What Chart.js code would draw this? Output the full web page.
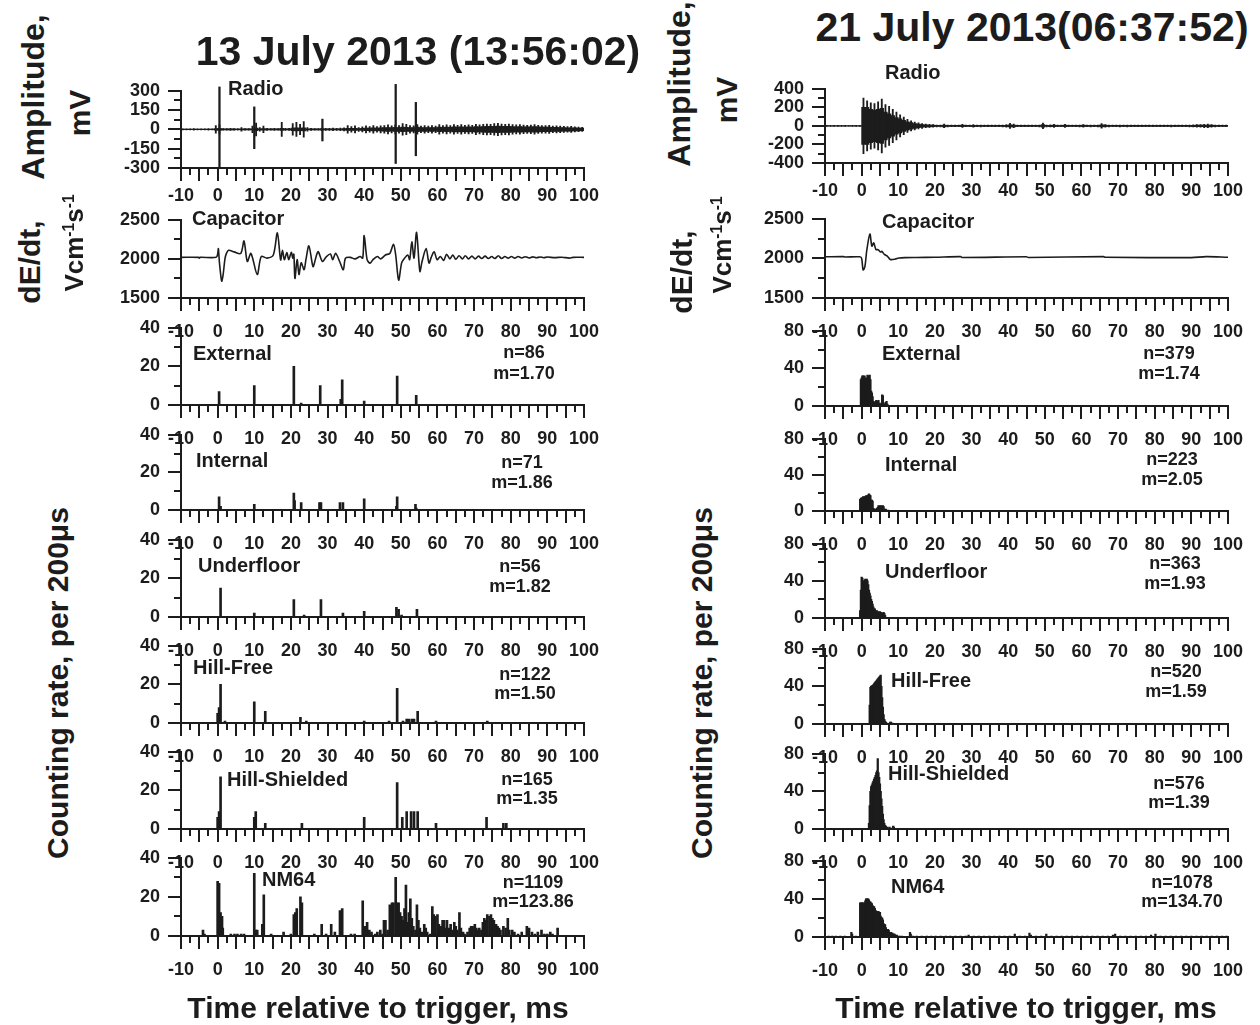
<!DOCTYPE html>
<html lang="en">
<head>
<meta charset="UTF-8">
<title>Radio, capacitor and particle counts, July 2013</title>
<script src="https://cdn.jsdelivr.net/npm/chart.js"></script>
<style>
  body { margin: 0; width: 1260px; height: 1025px; position: relative; overflow: hidden; background: #fff;
         font-family: "Liberation Sans", Arial, sans-serif; font-weight: bold; color: #1c1c1c; }
  .box { position: absolute; }
  .t { position: absolute; white-space: nowrap; line-height: 1; }
  .r { position: absolute; white-space: nowrap; line-height: 1; transform: translate(-50%, -50%) rotate(-90deg); }
  sup { font-size: 60%; vertical-align: 0.6em; }
</style>
</head>
<body>
<script>
// ---------- data ----------
// radio signal per 1 ms bin from -10 ms: dense noise level (core) and largest excursions (peak), mV
const radioL_core = [
  3,3,3,3,3,3,3,3,3,6,
  8,4,4,4,4,3,4,4,4,5,
  10,5,6,4,4,4,4,8,4,4,
  10,12,10,12,5,4,4,4,6,4,
  4,5,4,5,6,8,8,8,6,8,
  10,10,12,10,12,14,15,14,16,15,
  18,16,15,14,18,14,15,14,15,14,
  18,16,18,16,20,18,20,18,20,18,
  22,20,22,24,24,24,26,24,24,24,
  22,20,22,20,20,20,22,20,18,18,
  18,16,16,15,14,13,13,12,11,10];
const radioL_peak = [
  4,4,4,6,4,4,4,6,4,30,
  35,6,6,8,6,6,14,6,6,25,
  50,14,25,8,6,8,6,55,8,8,
  45,55,40,60,14,8,6,6,10,8,
  8,10,8,10,12,30,22,28,15,20,
  28,22,30,22,28,30,35,28,35,30,
  45,40,30,28,38,25,30,25,30,25,
  38,30,35,30,38,32,38,32,36,32,
  40,35,40,42,40,45,48,42,40,42,
  38,35,38,34,32,34,38,32,30,30,
  32,26,28,25,24,22,24,20,18,16];
const radioL_spikeT = [0.5, 10.0, 28.6, 48.6, 54.1];
const radioL_spikeHi = [330, 175, 80, 350, 210];
const radioL_spikeLo = [-300, -150, -90, -265, -205];

const radioR_core = [
  4,4,4,4,4,4,3,4,4,4,
  200,200,180,170,180,190,150,130,110,90,
  75,60,45,35,26,20,15,12,10,8,
  6,6,10,6,5,5,5,8,5,5,
  7,5,6,5,5,5,5,5,6,7,
  12,10,5,5,5,5,5,5,6,14,
  6,7,9,5,5,8,5,5,5,6,
  8,5,6,5,6,12,8,6,5,5,
  6,5,6,5,5,5,5,5,5,5,
  5,5,5,5,6,5,5,5,5,6,
  7,8,8,9,10,8,6,5,5,5];
const radioR_peak = [
  6,6,5,5,6,5,4,5,5,6,
  300,270,250,240,260,290,230,210,180,150,
  120,95,70,55,42,32,26,20,16,13,
  10,10,20,10,8,8,8,16,8,8,
  14,8,10,8,8,8,8,8,10,14,
  28,20,8,8,8,8,8,8,10,30,
  10,12,16,8,8,16,8,8,8,10,
  15,8,10,8,10,25,15,10,8,8,
  10,8,10,8,8,8,8,8,8,8,
  8,8,8,8,10,8,8,8,8,10,
  12,14,14,18,20,15,10,8,8,8];

// capacitor dE/dt traces (ms, V/cm/s)
const capL_t = [-10,-5.2,-5,-4.8,-0.4,0,0.2,0.5,1.1,1.5,2.0,2.4,3.0,4.5,6.3,7.2,8.1,9.1,10.8,11.9,
  13.5,15.2,16.3,17.2,17.7,18.2,18.9,19.4,20.1,20.5,20.8,21.1,21.7,22.2,22.8,23.6,24.1,24.9,25.8,26.1,
  27.4,28.6,29.7,30.8,31.4,32.2,33.3,34.3,34.9,36.2,37.5,38.9,39.6,40.0,40.8,41.6,42.4,43.6,44.5,45.8,
  47.0,48.0,48.6,49.4,50.2,50.7,51.9,52.4,53.0,53.6,54.3,55.2,55.8,56.9,57.7,58.3,59.1,59.9,60.8,61.7,
  62.5,63.4,64.2,65.0,65.9,66.8,67.6,68.5,69.4,70.3,71.2,72.1,73.0,73.9,74.8,75.7,76.6,77.5,78.4,79.3,
  80.2,81.1,82,83,84,85,86,87,88,89,90,92,94,96,97,100];
const capL_v = [2020,2020,2010,2020,2020,2060,2130,1950,1716,1800,2000,2070,2110,2090,2070,2230,1967,2070,1800,2030,
  2010,2050,2333,1987,2110,1990,2080,1990,2083,2010,2060,1750,1990,1800,1950,1862,1990,2167,1946,1900,
  2092,1967,2030,2063,1990,2071,1967,1862,2010,2020,2000,2030,2010,2300,1990,1946,1990,2030,2000,2050,
  2070,2188,2050,1729,1946,1990,2050,1990,2217,2010,2338,1841,1967,2133,1946,2020,2092,1990,2030,1980,
  2060,2000,2050,1995,2040,2000,2040,2000,2035,2000,2035,2005,2035,2005,2030,2005,2040,2005,2030,2010,
  2030,2010,2030,2012,2028,2012,2026,2014,2025,2015,2024,2016,2022,2010,2020,2020];

const capR_t = [-10,-5,-4.5,-0.5,0,0.4,0.9,1.4,2.25,2.8,3.3,3.9,4.5,5.2,5.5,6.2,7.0,7.8,9.1,10.2,
  12,15,20,27,27.5,45,45.5,66,66.5,90,94,100];
const capR_v = [2020,2022,2018,2020,2000,1854,1900,2100,2308,2154,2196,2112,2110,2080,2090,2050,2030,1987,1990,2005,
  2010,2012,2015,2022,2012,2020,2012,2022,2014,2010,2022,2015];

// counting rate per 200 us, 13 July (sparse bins: time ms, count)
const extL_t = [0.4,10.0,20.8,22.8,28.0,33.6,34.0,40.0,49.0,54.2];
const extL_n = [7,10,20,1,10,3,13,2,15,5];
const intL_t = [0.4,0.8,10.0,20.8,21.0,22.8,27.8,28.2,33.4,34.2,40.0,48.8,49.0,54.0,54.2];
const intL_n = [7,2,3,9,5,4,4,4,4,4,6,2,7,3,1];
const ufL_t = [0.8,10.0,20.8,23.6,28.2,34.2,40.0,48.8,49.4,50.2,54.4];
const ufL_n = [15,2,9,1,9,2,3,5,4,1,4];
const hfL_t = [0.0,0.4,0.8,2.0,10.0,13.0,22.6,24.2,40.0,46.8,49.0,50.6,51.6,52.2,53.0,53.6,54.6,59.6,73.6];
const hfL_n = [5,8,20,1,11,6,3,1,1,1,18,1,2,2,2,2,6,1,1];
const hsL_t = [0.0,0.4,0.8,10.0,10.4,13.0,23.0,40.0,49.0,50.4,51.6,52.8,53.6,54.6,59.6,73.4,78.0,78.8];
const hsL_n = [6,9,27,6,9,3,3,6,24,6,9,9,9,9,3,6,3,3];
const nmL_t = [-4.0,-3.6, 0.0,0.4,0.8,1.2,1.4, 3.6,4.6,5.4,6.4,7.2, 10.0,10.4,10.8, 12.2,12.6, 14.6,18.0,20.0,
  20.8,21.2,21.6,22.6,23.0, 26.4,28.4,29.6, 31.0,32.0, 33.4,34.0, 36.4,37.4, 39.6,40.2,
  40.8,41.4,42.0,43.0,43.6,44.4,45.0,45.4,45.8,46.4,
  47.0,47.2,47.6,48.0,48.6,49.0,49.4,49.8,50.2,50.6,
  51.0,51.4,51.8,52.2,52.6,53.0,53.4,54.0,54.4,54.8,
  55.2,55.8,56.4,56.8,57.2,58.0,58.6,59.0,59.4,60.0,
  60.4,61.0,61.4,61.8,62.2,62.6,63.2,63.6,64.2,64.6,
  65.0,65.4,66.0,66.4,67.0,67.4,68.2,68.8,69.2,69.6,
  70.2,70.6,71.0,71.4,72.0,72.4,72.8,73.2,73.6,74.2,
  74.6,75.0,75.4,76.0,76.4,76.8,77.2,78.0,78.6,79.2,
  79.6,80.4,81.0,82.0,83.0,84.4,85.0,85.8,86.6,87.4,
  88.4,89.2,90.0,90.8,91.4,92.8];
const nmL_n = [3,1, 28,27,12,10,4, 1,1,1,1,1, 32,3,3, 6,21, 1,2,1,
  11,12,14,20,17, 1,6,1, 6,2, 13,14, 1,1, 18,5,
  7,3,2,1,2,3,1,8,8,3,
  16,12,17,17,30,17,17,12,10,8,
  14,26,7,12,19,9,5,3,16,8,
  4,2,6,4,2,1,15,11,10,11,
  6,5,8,8,4,8,4,6,3,7,
  5,3,12,4,2,1,2,4,5,5,
  6,4,3,4,3,7,9,8,11,10,
  11,9,8,6,5,4,3,5,4,9,
  3,3,2,1,2,5,4,2,1,2,
  3,1,1,2,1,4];

// 21 July: contiguous 200 us bins, first bin time + counts
const extR_t0 = -0.2;
const extR_n = [28,30,32,32,30,32,28,30,25,33,32,30,33,28,16,14,10,5,4,3,5,6,4,5,6,3,2,2,3,12,11,3,2,1,4,5,2,1];
const intR_t0 = -0.4;
const intR_n = [13,14,15,14,16,15,16,16,17,16,17,18,19,18,17,12,12,11,3,2,2,1,2,3,4,6,5,6,5,6,5,6,5,2,0,2,0,0,1];
const ufR_t0 = -0.4;
const ufR_n = [8,30,44,43,40,38,41,42,41,42,40,36,30,27,24,20,18,15,12,10,10,8,7,8,6,7,6,7,5,6,5,5,6,5,3];
const hfR_t0 = 2.2;
const hfR_n = [20,39,40,41,41,42,43,44,45,46,47,48,49,50,51,52,40,28,18,10,5,3,2,0,1,0,0,0,2,2,0,1];
const hsR_t0 = 2.0;
const hsR_n = [6,25,40,45,47,49,51,53,55,57,60,62,75,60,55,48,40,32,24,16,10,6,4,3,0,2,0,0,2,0,1,0,0,3,2];
const nmR_t0 = -0.4;
const nmR_n = [36,36,36,36,36,35,36,38,40,40,40,40,39,37,37,36,35,33,32,32,30,28,27,27,27,27,26,26,22,20,
  20,18,14,13,13,10,8,8,8,7,5,5,5,4,4,3,3,3,2,0,2,0,1];
// scattered single bins of NM64 outside the burst
const nmR_sparseT = [-9.0,-8.0,-7.0,-5.8,-4.6,-2.8,-2.6,-1.6,
  10.4,11.0,13.2,13.4,14.0,15.0,16.4,17.8,19.0,20.2,
  21.6,23.0,24.2,25.6,27.0,28.4,29.2,30.6,32.0,33.4,
  34.8,36.2,37.6,39.0,40.4,41.8,43.2,44.6,45.8,46.2,
  47.6,49.0,50.4,51.8,53.2,54.6,56.0,57.4,58.8,60.2,
  61.6,63.0,64.4,65.8,67.2,68.6,69.2,70.6,72.0,73.4,
  74.8,76.2,77.6,79.0,80.2,81.6,83.0,84.4,85.8,87.2,
  88.6,90.0,91.4,92.8,94.2,95.6,97.0,98.4,99.6];
const nmR_sparseN = [1,1,1,1,1,5,3,1,
  1,1,5,3,1,1,1,1,1,1,
  1,1,1,1,1,1,2,1,1,1,
  1,1,1,1,1,3,1,1,4,2,
  1,1,3,1,1,1,1,1,1,1,
  1,1,1,1,1,2,3,1,1,1,
  1,1,1,2,3,1,1,1,1,1,
  1,1,1,1,1,1,1,1,1];

const BIN = 0.2;
const xTicks = [-10, 100, 10];

// ---------- drawing ----------
const INK = '#1c1c1c';
Chart.defaults.font.family = '"Liberation Sans", Arial, sans-serif';
Chart.defaults.font.weight = 'bold';
Chart.defaults.font.size = 18;
Chart.defaults.color = INK;

function pts(ts, vs) { return ts.map((t, i) => ({ x: t, y: vs[i] })); }
function binned(t0, ns) { return ns.map((n, i) => ({ x: t0 + i * BIN, y: n })); }

function tickAxis(pos, min, max, step, len) {
  return {
    type: 'linear', position: pos, min: min, max: max, weight: 0, offset: false,
    afterFit: s => { if (pos === 'bottom') s.height = 0; else s.width = 0; },
    ticks: { display: false, stepSize: step },
    grid: { drawOnChartArea: false, offset: false, tickLength: len, lineWidth: 2, color: INK },
    border: { display: false }
  };
}

function panel(p, datasets) {
  const L = 80, R = 32, T = 16, B = 50;
  const w = p.x1 - p.x0 + L + R, h = p.y1 - p.y0 + T + B;
  const div = document.createElement('div');
  div.className = 'box';
  div.style.left = (p.x0 - L) + 'px';
  div.style.top = (p.y0 - T) + 'px';
  const cv = document.createElement('canvas');
  cv.width = w; cv.height = h;
  div.appendChild(cv);
  document.body.appendChild(div);
  new Chart(cv, {
    type: 'bar',
    data: { datasets: datasets },
    options: {
      responsive: false, animation: false, devicePixelRatio: 1, events: [],
      layout: { padding: { left: 0, top: T, right: R, bottom: 0 } },
      plugins: { legend: { display: false }, tooltip: { enabled: false } },
      scales: {
        x: {
          type: 'linear', position: 'bottom', min: xTicks[0], max: xTicks[1], weight: 10, offset: false,
          afterFit: s => { s.height = B; },
          ticks: { stepSize: xTicks[2], autoSkip: false, maxRotation: 0, padding: p.xpad, callback: v => String(v) },
          grid: { drawOnChartArea: false, offset: false, tickLength: 13, lineWidth: 2, color: INK },
          border: { width: 2, color: INK }
        },
        y: {
          type: 'linear', position: 'left', min: p.ymin, max: p.ymax, weight: 10,
          afterFit: s => { s.width = L; },
          ticks: { stepSize: p.ystep, autoSkip: false, padding: 8, callback: v => String(v) },
          grid: { drawOnChartArea: false, tickLength: 13, lineWidth: 2, color: INK },
          border: { width: 2, color: INK }
        },
        xa: tickAxis('bottom', xTicks[0], xTicks[1], 5, 13),
        xb: tickAxis('bottom', xTicks[0], xTicks[1], 2.5, 7),
        ya: tickAxis('left', p.ymin, p.ymax, p.yminor, 7)
      }
    }
  });
}

function bars(data, thick) {
  return { type: 'bar', data: data, backgroundColor: INK, borderWidth: 0, barThickness: thick,
           grouped: false, xAxisID: 'x', yAxisID: 'y' };
}
function envelope(amp, thick) {
  return bars(amp.map((a, i) => ({ x: -9.5 + i, y: [-a, a] })), thick);
}
function trace(ts, vs) {
  return { type: 'line', data: pts(ts, vs), borderColor: INK, borderWidth: 1.6, pointRadius: 0,
           tension: 0.3, fill: false, xAxisID: 'x', yAxisID: 'y' };
}

// left column (13 July)
const LX = { x0: 181, x1: 584 };
const spikes = bars(radioL_spikeT.map((t, i) => ({ x: t, y: [radioL_spikeLo[i], radioL_spikeHi[i]] })), 1.6);
spikes.clip = false;
panel({ ...LX, y0: 88, y1: 168, ymin: -300, ymax: 300, ystep: 150, yminor: 75, xpad: 4 },
      [envelope(radioL_core, 3.7), envelope(radioL_peak, 1.2), spikes]);
panel({ ...LX, y0: 217, y1: 298, ymin: 1500, ymax: 2500, ystep: 500, yminor: 250, xpad: 10 },
      [trace(capL_t, capL_v)]);
const histL = [[extL_t, extL_n, 325, 405], [intL_t, intL_n, 432, 510], [ufL_t, ufL_n, 537, 617],
               [hfL_t, hfL_n, 643, 723], [hsL_t, hsL_n, 749, 829], [nmL_t, nmL_n, 855, 936]];
histL.forEach(h => panel({ ...LX, y0: h[2], y1: h[3], ymin: 0, ymax: 40, ystep: 20, yminor: 10, xpad: 10 },
                        [bars(pts(h[0], h[1]), 2)]));

// right column (21 July)
const RX = { x0: 825, x1: 1228 };
panel({ ...RX, y0: 86, y1: 163, ymin: -400, ymax: 400, ystep: 200, yminor: 100, xpad: 4 },
      [envelope(radioR_core, 3.7), envelope(radioR_peak, 1.2)]);
panel({ ...RX, y0: 216, y1: 298, ymin: 1500, ymax: 2500, ystep: 500, yminor: 250, xpad: 10 },
      [trace(capR_t, capR_v)]);
const histR = [[binned(extR_t0, extR_n), 328, 406], [binned(intR_t0, intR_n), 436, 511],
               [binned(ufR_t0, ufR_n), 541, 618], [binned(hfR_t0, hfR_n), 646, 724],
               [binned(hsR_t0, hsR_n), 751, 829],
               [binned(nmR_t0, nmR_n).concat(pts(nmR_sparseT, nmR_sparseN)), 858, 937]];
histR.forEach(h => panel({ ...RX, y0: h[1], y1: h[2], ymin: 0, ymax: 80, ystep: 40, yminor: 20, xpad: 10 },
                        [bars(h[0], 1.6)]));

// ---------- text ----------
function txt(html, x, y, size, center) {
  const d = document.createElement('div');
  d.className = 't';
  d.innerHTML = html;
  d.style.left = x + 'px'; d.style.top = y + 'px'; d.style.fontSize = size + 'px';
  d.style.transform = center ? 'translate(-50%,-50%)' : 'translate(0,-50%)';
  document.body.appendChild(d);
}
function rot(html, x, y, size) {
  const d = document.createElement('div');
  d.className = 'r';
  d.innerHTML = html;
  d.style.left = x + 'px'; d.style.top = y + 'px'; d.style.fontSize = size + 'px';
  document.body.appendChild(d);
}

txt('13 July 2013 (13:56:02)', 418, 51, 41, true);
txt('21 July 2013(06:37:52)', 1032, 27, 41, true);

rot('Amplitude,', 33, 97, 32);  rot('mV', 80, 113, 30);
rot('dE/dt,', 30, 262, 30);     rot('Vcm<sup>-1</sup>s<sup>-1</sup>', 74, 243, 26);
rot('Counting rate, per 200μs', 58, 683, 30);
rot('Amplitude,', 679, 84, 32); rot('mV', 727, 100, 30);
rot('dE/dt,', 682, 272, 30);    rot('Vcm<sup>-1</sup>s<sup>-1</sup>', 722, 245, 26);
rot('Counting rate, per 200μs', 702, 683, 30);

txt('Time relative to trigger, ms', 378, 1008, 30, true);
txt('Time relative to trigger, ms', 1026, 1008, 30, true);

const namesL = [['Radio', 228, 88], ['Capacitor', 192, 218], ['External', 193, 353], ['Internal', 196, 460],
                ['Underfloor', 198, 565], ['Hill-Free', 193, 667], ['Hill-Shielded', 227, 779], ['NM64', 262, 879]];
const namesR = [['Radio', 885, 72], ['Capacitor', 882, 221], ['External', 882, 353], ['Internal', 885, 464],
                ['Underfloor', 885, 571], ['Hill-Free', 891, 680], ['Hill-Shielded', 888, 773], ['NM64', 891, 886]];
namesL.concat(namesR).forEach(n => txt(n[0], n[1], n[2], 20, false));

const statsL = [['n=86', 'm=1.70', 524, 352, 373], ['n=71', 'm=1.86', 522, 462, 482], ['n=56', 'm=1.82', 520, 566, 586],
                ['n=122', 'm=1.50', 525, 674, 693], ['n=165', 'm=1.35', 527, 779, 798], ['n=1109', 'm=123.86', 533, 882, 901]];
const statsR = [['n=379', 'm=1.74', 1169, 353, 373], ['n=223', 'm=2.05', 1172, 459, 479], ['n=363', 'm=1.93', 1175, 563, 583],
                ['n=520', 'm=1.59', 1176, 671, 691], ['n=576', 'm=1.39', 1179, 783, 802], ['n=1078', 'm=134.70', 1182, 882, 901]];
statsL.concat(statsR).forEach(s => { txt(s[0], s[2], s[3], 18, true); txt(s[1], s[2], s[4], 18, true); });
</script>
</body>
</html>
